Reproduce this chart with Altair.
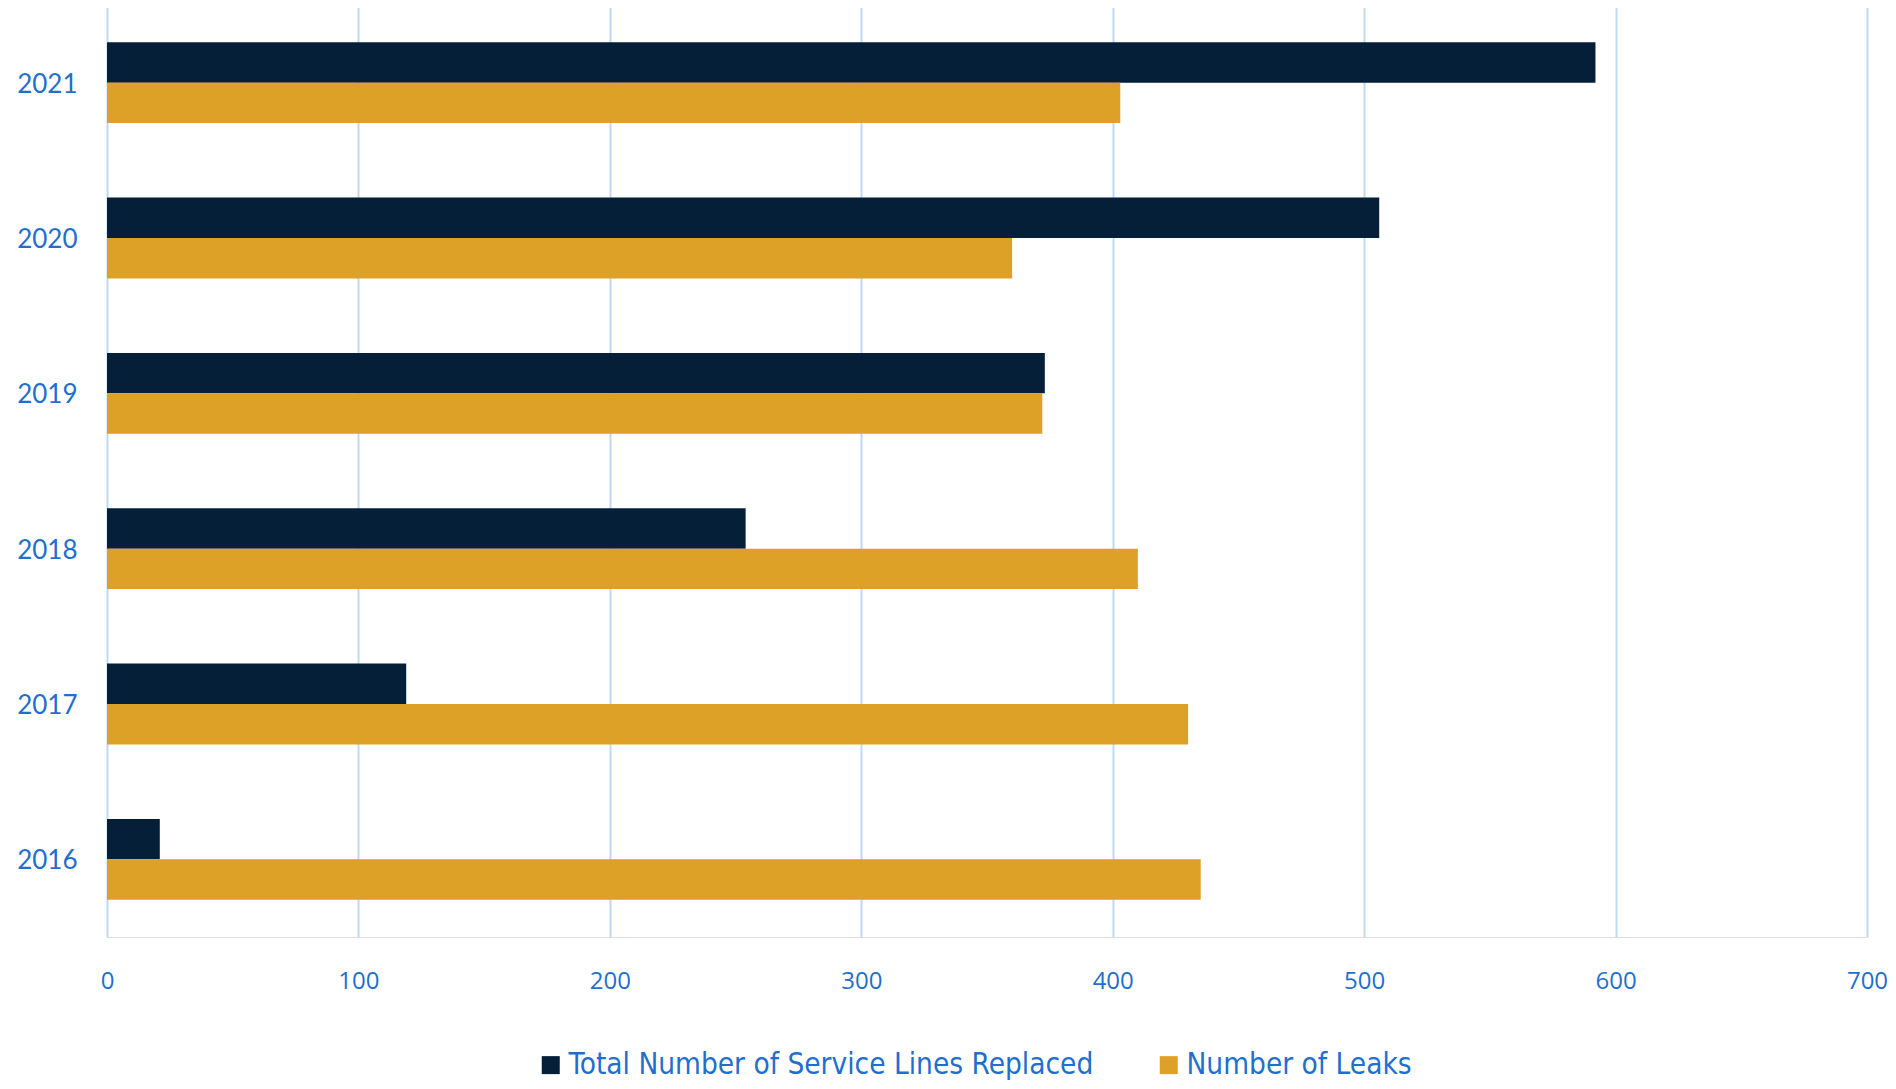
import altair as alt
import pandas as pd

years = ["2021", "2020", "2019", "2018", "2017", "2016"]
service_lines = [592, 506, 373, 254, 119, 21]
leaks = [403, 360, 372, 410, 430, 435]
series = ["Total Number of Service Lines Replaced", "Number of Leaks"]
colors = ["#061f38", "#dea128"]

rows = []
for y, s, l in zip(years, service_lines, leaks):
    rows.append({"year": y, "series": series[0], "value": s})
    rows.append({"year": y, "series": series[1], "value": l})
df = pd.DataFrame(rows)

blue = "#1f6fcf"

chart = alt.Chart(df).mark_bar().encode(
    x=alt.X("value:Q",
            scale=alt.Scale(domain=[0, 700], nice=False),
            axis=alt.Axis(values=[0, 100, 200, 300, 400, 500, 600, 700], title=None,
                          domain=False, ticks=False, grid=True, gridColor="#bfd9f4",
                          gridWidth=2, labelColor=blue, labelFont="Open Sans",
                          labelFontSize=24, labelPadding=32, labelFlush=False)),
    y=alt.Y("year:N", sort=years,
            scale=alt.Scale(paddingInner=0.48, paddingOuter=0.24),
            axis=alt.Axis(title=None, domain=False, ticks=False, grid=False,
                          labelColor=blue, labelFont="Lato", labelFontSize=26,
                          labelPadding=30, labelOffset=2)),
    yOffset=alt.YOffset("series:N", sort=series, scale=alt.Scale(paddingInner=0, paddingOuter=0)),
    color=alt.Color("series:N", sort=series,
                    scale=alt.Scale(domain=series, range=colors),
                    legend=alt.Legend(title=None, orient="none", direction="horizontal",
                                      legendX=429, legendY=1045,
                                      symbolType="square", symbolSize=324,
                                      symbolStrokeWidth=0, labelColor=blue,
                                      labelFont="Liberation Sans Narrow, DejaVu Sans Condensed, Open Sans",
                                      labelFontSize=29.5,
                                      labelOffset=3, columnPadding=60, labelLimit=800)),
).properties(
    width=1760,
    height=932,
    autosize=alt.AutoSizeParams(type="none"),
    padding={"left": 99, "top": -3, "right": 21, "bottom": 144},
).configure_view(stroke=None).configure(background="white")

chart.save("out.html", embed_options={"renderer": "svg", "actions": False})
